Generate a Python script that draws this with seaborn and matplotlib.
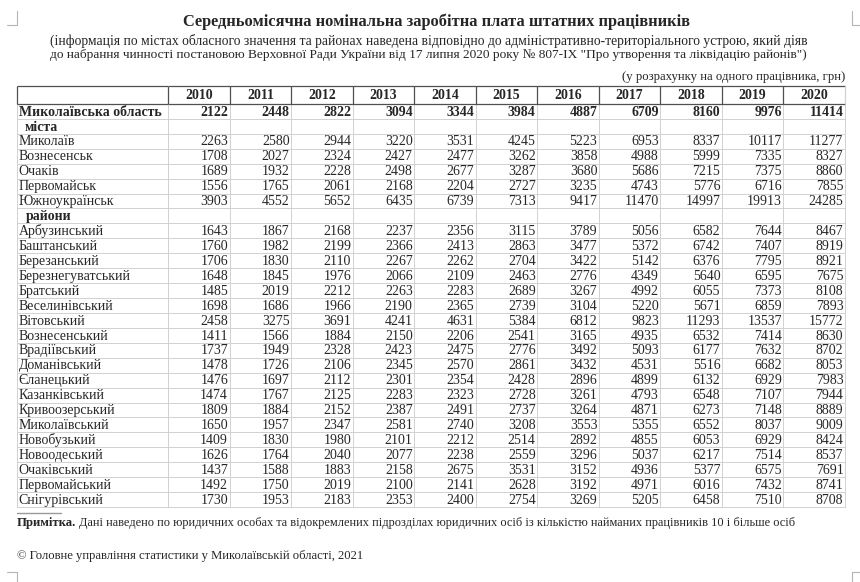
import numpy as np
import pandas as pd
import matplotlib
matplotlib.use('Agg')
import matplotlib.pyplot as plt
from matplotlib.colors import ListedColormap
import seaborn as sns

# --- data ---
years = [2010, 2011, 2012, 2013, 2014, 2015, 2016, 2017, 2018, 2019, 2020]

region_name = 'Миколаївська область'
region_values = [2122, 2448, 2822, 3094, 3344, 3984, 4887, 6709, 8160, 9976, 11414]

cities = ['Миколаїв', 'Вознесенськ', 'Очаків', 'Первомайськ', 'Южноукраїнськ']
city_values = [
    [2263, 2580, 2944, 3220, 3531, 4245, 5223, 6953, 8337, 10117, 11277],
    [1708, 2027, 2324, 2427, 2477, 3262, 3858, 4988, 5999, 7335, 8327],
    [1689, 1932, 2228, 2498, 2677, 3287, 3680, 5686, 7215, 7375, 8860],
    [1556, 1765, 2061, 2168, 2204, 2727, 3235, 4743, 5776, 6716, 7855],
    [3903, 4552, 5652, 6435, 6739, 7313, 9417, 11470, 14997, 19913, 24285],
]

districts = ['Арбузинський', 'Баштанський', 'Березанський', 'Березнегуватський',
             'Братський', 'Веселинівський', 'Вітовський', 'Вознесенський',
             'Врадіївський', 'Доманівський', 'Єланецький', 'Казанківський',
             'Кривоозерський', 'Миколаївський', 'Новобузький', 'Новоодеський',
             'Очаківський', 'Первомайський', 'Снігурівський']
district_values = [
    [1643, 1867, 2168, 2237, 2356, 3115, 3789, 5056, 6582, 7644, 8467],
    [1760, 1982, 2199, 2366, 2413, 2863, 3477, 5372, 6742, 7407, 8919],
    [1706, 1830, 2110, 2267, 2262, 2704, 3422, 5142, 6376, 7795, 8921],
    [1648, 1845, 1976, 2066, 2109, 2463, 2776, 4349, 5640, 6595, 7675],
    [1485, 2019, 2212, 2263, 2283, 2689, 3267, 4992, 6055, 7373, 8108],
    [1698, 1686, 1966, 2190, 2365, 2739, 3104, 5220, 5671, 6859, 7893],
    [2458, 3275, 3691, 4241, 4631, 5384, 6812, 9823, 11293, 13537, 15772],
    [1411, 1566, 1884, 2150, 2206, 2541, 3165, 4935, 6532, 7414, 8630],
    [1737, 1949, 2328, 2423, 2475, 2776, 3492, 5093, 6177, 7632, 8702],
    [1478, 1726, 2106, 2345, 2570, 2861, 3432, 4531, 5516, 6682, 8053],
    [1476, 1697, 2112, 2301, 2354, 2428, 2896, 4899, 6132, 6929, 7983],
    [1474, 1767, 2125, 2283, 2323, 2728, 3261, 4793, 6548, 7107, 7944],
    [1809, 1884, 2152, 2387, 2491, 2737, 3264, 4871, 6273, 7148, 8889],
    [1650, 1957, 2347, 2581, 2740, 3208, 3553, 5355, 6552, 8037, 9009],
    [1409, 1830, 1980, 2101, 2212, 2514, 2892, 4855, 6053, 6929, 8424],
    [1626, 1764, 2040, 2077, 2238, 2559, 3296, 5037, 6217, 7514, 8537],
    [1437, 1588, 1883, 2158, 2675, 3531, 3152, 4936, 5377, 6575, 7691],
    [1492, 1750, 2019, 2100, 2141, 2628, 3192, 4971, 6016, 7432, 8741],
    [1730, 1953, 2183, 2353, 2400, 2754, 3269, 5205, 6458, 7510, 8708],
]

# build the table: region row, "міста" row, cities, "райони" row, districts
empty = [np.nan] * len(years)
labels = [region_name, 'міста'] + cities + ['райони'] + districts
kinds = ['total', 'group'] + ['item'] * len(cities) + ['group'] + ['item'] * len(districts)
rows = [region_values, empty] + city_values + [empty] + district_values
df = pd.DataFrame(rows, index=labels, columns=years)
nrows = len(df)

sns.set_style('white')
plt.rcParams['font.family'] = ['Liberation Serif', 'DejaVu Serif']

W, H = 860, 582
fig = plt.figure(figsize=(W / 100, H / 100), dpi=100)
fig.patch.set_facecolor('white')


def fx(x):
    return x / W


def fy(y):
    return 1 - y / H


grid_col = '#d2d2d2'
head_col = '#505050'
white = ListedColormap(['white'])

# table geometry (pixels in the page)
tab_left, name_right, tab_right = 17, 168, 845
tab_top, body_top, tab_bottom = 86, 104, 507
head_h = (body_top - tab_top) / ((tab_bottom - body_top) / nrows)

ax_n = fig.add_axes([fx(tab_left), fy(tab_bottom), fx(name_right - tab_left), (tab_bottom - tab_top) / H])
ax_v = fig.add_axes([fx(name_right), fy(tab_bottom), fx(tab_right - name_right), (tab_bottom - tab_top) / H])

sns.heatmap(np.zeros((nrows, 1)), ax=ax_n, cmap=white, cbar=False,
            linewidths=0.6, linecolor=grid_col, xticklabels=False, yticklabels=False)
sns.heatmap(df.fillna(0), ax=ax_v, cmap=white, cbar=False,
            linewidths=0.6, linecolor=grid_col, xticklabels=False, yticklabels=False)

for ax in (ax_n, ax_v):
    ax.set_ylim(nrows, -head_h)
    ax.set_xlabel('')
    ax.set_ylabel('')
    for c in ax.collections:
        c.set_clip_on(False)

# header borders
ax_n.hlines([-head_h, 0], 0, 1, color=head_col, lw=0.9, clip_on=False)
ax_n.vlines([0], -head_h, 0, color=head_col, lw=0.9, clip_on=False)
ax_v.hlines([-head_h, 0], 0, len(years), color=head_col, lw=0.9, clip_on=False)
ax_v.vlines(range(len(years)), -head_h, 0, color=head_col, lw=0.9, clip_on=False)
ax_v.vlines([len(years)], -head_h, 0, color=grid_col, lw=0.9, clip_on=False)

# header text
for j, yr in enumerate(years):
    ax_v.text(j + 0.5, -head_h / 2 + 0.05, str(yr), ha='center', va='center',
              fontsize=10, fontweight='bold')

# row labels and values
for i, (lab, kind) in enumerate(zip(labels, kinds)):
    yb = i + 0.78
    if kind == 'total':
        ax_n.text(0.012, yb, lab, fontsize=10, fontweight='bold', va='baseline')
    elif kind == 'group':
        xoff = 0.05 if lab == 'міста' else 0.06
        ax_n.text(xoff, yb, lab, fontsize=10, fontweight='bold', va='baseline')
    else:
        ax_n.text(0.012, yb, lab, fontsize=10, va='baseline')
    for j, yr in enumerate(years):
        v = df.iloc[i, j]
        if np.isnan(v):
            continue
        ax_v.text(j + 0.975, yb, f'{int(v)}', ha='right', va='baseline', fontsize=10,
                  fontweight='bold' if kind == 'total' else 'normal')

# titles
fig.text(fx(436), fy(22), 'Середньомісячна номінальна заробітна плата штатних працівників',
         ha='center', va='center', fontsize=11.8, fontweight='bold')
fig.text(fx(429), fy(41), '(інформація по містах обласного значення та районах наведена відповідно '
         'до адміністративно-територіального устрою, який діяв',
         ha='center', va='center', fontsize=9.8)
fig.text(fx(428), fy(55), 'до набрання чинності постановою Верховної Ради України від 17 липня '
         '2020 року № 807-ІХ "Про утворення та ліквідацію районів")',
         ha='center', va='center', fontsize=9.6)
fig.text(fx(tab_right), fy(77), '(у розрахунку на одного працівника, грн)',
         ha='right', va='center', fontsize=9.2)

# footnote
fig.add_artist(plt.Line2D([fx(17), fx(61)], [fy(513), fy(513)], color='#9a9a9a', lw=1))
t1 = fig.text(fx(17), fy(523), 'Примітка.', ha='left', va='center', fontsize=9.2, fontweight='bold')
fig.canvas.draw()
bb = t1.get_window_extent()
fig.text((bb.x1 + 3) / W, fy(523), 'Дані наведено по юридичних особах та відокремлених підрозділах '
         'юридичних осіб із кількістю найманих працівників 10 і більше осіб',
         ha='left', va='center', fontsize=8.9)
fig.text(fx(17), fy(556), '© Головне управління статистики у Миколаївській області, 2021',
         ha='left', va='center', fontsize=9.1)

# page corner marks
mark = '#b5b5b5'
for xs, ys in [([16.5, 16.5], [11, 25]), ([7, 16.5], [25, 25]),
               ([852, 852], [11, 25]), ([852, 860], [25, 25]),
               ([16.5, 16.5], [572, 582]), ([7, 16.5], [572, 572]),
               ([852, 852], [572, 582]), ([852, 860], [572, 572])]:
    fig.add_artist(plt.Line2D([fx(x) for x in xs], [fy(y) for y in ys], color=mark, lw=0.8))

fig.savefig('out.png', dpi=100, facecolor='white')
